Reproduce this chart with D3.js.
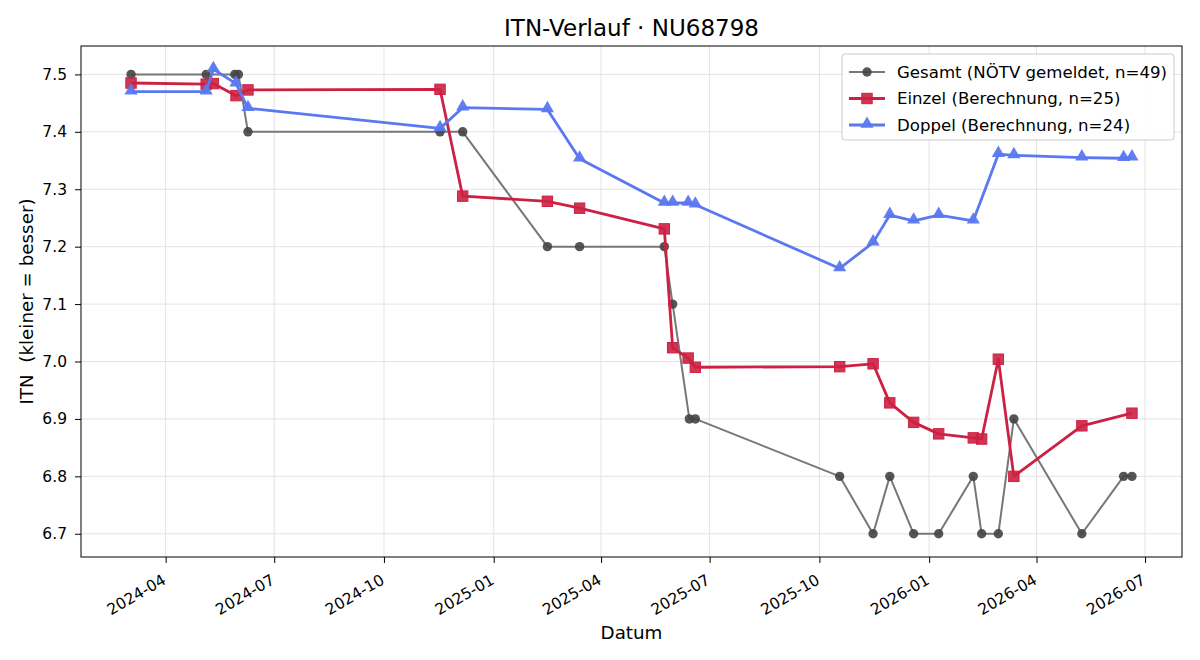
<!DOCTYPE html>
<html>
<head>
<meta charset="utf-8">
<script src="https://cdn.jsdelivr.net/npm/d3@7"></script>
<style>
body { margin: 0; background: #fff; }
text { font-family: 'DejaVu Sans', sans-serif; }
</style>
</head>
<body>
<div id="chart"></div>
<script>
// data
var gesamtDates = ['2024-03-03','2024-05-05','2024-05-29','2024-06-01','2024-06-09','2024-11-17','2024-12-06',
    '2025-02-15','2025-03-14','2025-05-24','2025-05-31','2025-06-14','2025-06-19','2025-10-18','2025-11-15',
    '2025-11-29','2025-12-19','2026-01-09','2026-02-07','2026-02-14','2026-02-28','2026-03-13','2026-05-09',
    '2026-06-13','2026-06-20'];
var gesamtValues = [7.5,7.5,7.5,7.5,7.4,7.4,7.4,7.2,7.2,7.2,7.1,6.9,6.9,6.8,6.7,6.8,6.7,6.7,6.8,6.7,6.7,6.9,6.7,6.8,6.8];

var einzelDates = ['2024-03-03','2024-05-05','2024-05-11','2024-05-30','2024-06-09','2024-11-17','2024-12-06',
    '2025-02-15','2025-03-14','2025-05-24','2025-05-31','2025-06-13','2025-06-19','2025-10-18','2025-11-15',
    '2025-11-29','2025-12-19','2026-01-09','2026-02-07','2026-02-14','2026-02-28','2026-03-13','2026-05-09',
    '2026-06-20'];
var einzelValues = [7.485,7.483,7.484,7.463,7.473,7.474,7.288,7.279,7.267,7.231,7.024,7.006,6.990,6.991,6.996,
    6.928,6.894,6.874,6.867,6.865,7.004,6.800,6.888,6.910];

var doppelDates = ['2024-03-03','2024-05-05','2024-05-11','2024-05-30','2024-06-09','2024-11-17','2024-12-06',
    '2025-02-15','2025-03-14','2025-05-24','2025-05-31','2025-06-13','2025-06-19','2025-10-18','2025-11-15',
    '2025-11-29','2025-12-19','2026-01-09','2026-02-07','2026-02-28','2026-03-13','2026-05-09','2026-06-13',
    '2026-06-20'];
var doppelValues = [7.470,7.470,7.509,7.484,7.441,7.406,7.442,7.439,7.353,7.276,7.276,7.276,7.273,7.162,7.207,
    7.255,7.245,7.255,7.245,7.361,7.359,7.355,7.354,7.355];

var yTicks = [6.7,6.8,6.9,7.0,7.1,7.2,7.3,7.4,7.5];
var seriesNames = ['Gesamt (NÖTV gemeldet, n=49)', 'Einzel (Berechnung, n=25)', 'Doppel (Berechnung, n=24)'];

var W = 1200, H = 660;
var margins = {left: 81, top: 46, right: 18, bottom: 103};
var width = W - margins.left - margins.right,
    height = H - margins.top - margins.bottom;

var parse = d3.timeParse('%Y-%m-%d');
function zip(dates, vals) {
    return dates.map(function(d, i) { return {date: parse(d), value: vals[i]}; });
}
var series = [
    {name: seriesNames[0], data: zip(gesamtDates, gesamtValues), line: '#777777', lw: 2, mark: 'circle', mfill: '#444444'},
    {name: seriesNames[1], data: zip(einzelDates, einzelValues), line: '#cc2142', lw: 2.8, mark: 'square', mfill: '#cc2142'},
    {name: seriesNames[2], data: zip(doppelDates, doppelValues), line: '#5a78f0', lw: 2.8, mark: 'triangle', mfill: '#5a78f0'}
];

var all = d3.merge(series.map(function(s) { return s.data; }));
var xExt = d3.extent(all, function(d) { return d.date; }),
    yExt = d3.extent(all, function(d) { return d.value; });
var xPad = (xExt[1] - xExt[0]) * 0.05,
    yPad = (yExt[1] - yExt[0]) * 0.05;

var x = d3.scaleTime()
    .domain([new Date(+xExt[0] - xPad), new Date(+xExt[1] + xPad)])
    .range([0, width]);
var y = d3.scaleLinear()
    .domain([yExt[0] - yPad, yExt[1] + yPad])
    .range([height, 0]);

var svg = d3.select('#chart').append('svg')
    .attr('width', W)
    .attr('height', H);

var g = svg.append('g')
    .attr('transform', 'translate(' + margins.left + ',' + margins.top + ')');

var xTicks = x.ticks(d3.timeMonth.every(3));

// grid
g.append('g').selectAll('line').data(yTicks).enter().append('line')
    .attr('x1', 0).attr('x2', width)
    .attr('y1', function(d) { return y(d); }).attr('y2', function(d) { return y(d); })
    .attr('stroke', '#e3e3e3').attr('stroke-width', 1);
g.append('g').selectAll('line').data(xTicks).enter().append('line')
    .attr('y1', 0).attr('y2', height)
    .attr('x1', function(d) { return x(d); }).attr('x2', function(d) { return x(d); })
    .attr('stroke', '#e3e3e3').attr('stroke-width', 1);

// axes
var xAxis = g.append('g')
    .attr('transform', 'translate(0,' + height + ')')
    .call(d3.axisBottom(x).tickValues(xTicks).tickFormat(d3.timeFormat('%Y-%m')).tickSizeOuter(0).tickSize(6));
xAxis.select('.domain').remove();
xAxis.selectAll('text')
    .attr('font-size', 15.5)
    .attr('fill', '#000')
    .attr('text-anchor', 'end')
    .attr('dy', null)
    .attr('x', 0)
    .attr('y', 0)
    .attr('transform', 'translate(1,26) rotate(-30)');

var yAxis = g.append('g')
    .call(d3.axisLeft(y).tickValues(yTicks).tickFormat(d3.format('.1f')).tickSizeOuter(0).tickSize(6).tickPadding(8));
yAxis.select('.domain').remove();
yAxis.selectAll('text').attr('font-size', 15.5).attr('fill', '#000');

// lines + markers
var line = d3.line()
    .x(function(d) { return x(d.date); })
    .y(function(d) { return y(d.value); });

series.forEach(function(s) {
    g.append('path')
        .datum(s.data)
        .attr('d', line)
        .attr('fill', 'none')
        .attr('stroke', s.line)
        .attr('stroke-width', s.lw)
        .attr('stroke-linejoin', 'round');
    s.data.forEach(function(d) {
        drawMark(g, s, x(d.date), y(d.value));
    });
});

function drawMark(parent, s, cx, cy) {
    if (s.mark === 'circle') {
        parent.append('circle').attr('cx', cx).attr('cy', cy).attr('r', 4.7)
            .attr('fill', s.mfill).attr('fill-opacity', 0.9);
    } else if (s.mark === 'square') {
        parent.append('rect').attr('x', cx - 5.2).attr('y', cy - 5.2).attr('width', 10.4).attr('height', 10.4)
            .attr('fill', s.mfill).attr('fill-opacity', 0.9)
            .attr('stroke', s.mfill).attr('stroke-width', 1);
    } else {
        parent.append('path').attr('d', d3.symbol(d3.symbolTriangle, 75))
            .attr('transform', 'translate(' + cx + ',' + (cy - 1) + ')')
            .attr('fill', s.mfill).attr('fill-opacity', 0.95);
    }
}

// frame
g.append('rect')
    .attr('width', width).attr('height', height)
    .attr('fill', 'none').attr('stroke', '#000').attr('stroke-width', 1);

// legend
var leg = g.append('g').attr('transform', 'translate(' + (width - 340) + ',8)');
leg.append('rect')
    .attr('width', 332).attr('height', 86).attr('rx', 3)
    .attr('fill', '#fff').attr('fill-opacity', 0.85)
    .attr('stroke', '#cccccc');
series.forEach(function(s, i) {
    var row = leg.append('g').attr('transform', 'translate(0,' + (18 + i * 26.5) + ')');
    row.append('line')
        .attr('x1', 7).attr('x2', 43)
        .attr('stroke', s.line).attr('stroke-width', s.lw);
    drawMark(row, s, 25, 0);
    row.append('text')
        .attr('x', 55).attr('y', 0).attr('dy', '0.35em')
        .attr('font-size', 16.6)
        .attr('fill', '#000')
        .text(s.name);
});

// titles
svg.append('text')
    .attr('x', margins.left + width / 2).attr('y', 36)
    .attr('text-anchor', 'middle').attr('font-size', 23).attr('fill', '#000')
    .text('ITN-Verlauf · NU68798');
svg.append('text')
    .attr('x', margins.left + width / 2).attr('y', 639)
    .attr('text-anchor', 'middle').attr('font-size', 18.3).attr('fill', '#000')
    .text('Datum');
svg.append('text')
    .attr('transform', 'translate(33,' + (margins.top + height / 2) + ') rotate(-90)')
    .attr('text-anchor', 'middle').attr('font-size', 18.3).attr('fill', '#000')
    .style('white-space', 'pre')
    .text('ITN  (kleiner = besser)');
</script>
</body>
</html>
